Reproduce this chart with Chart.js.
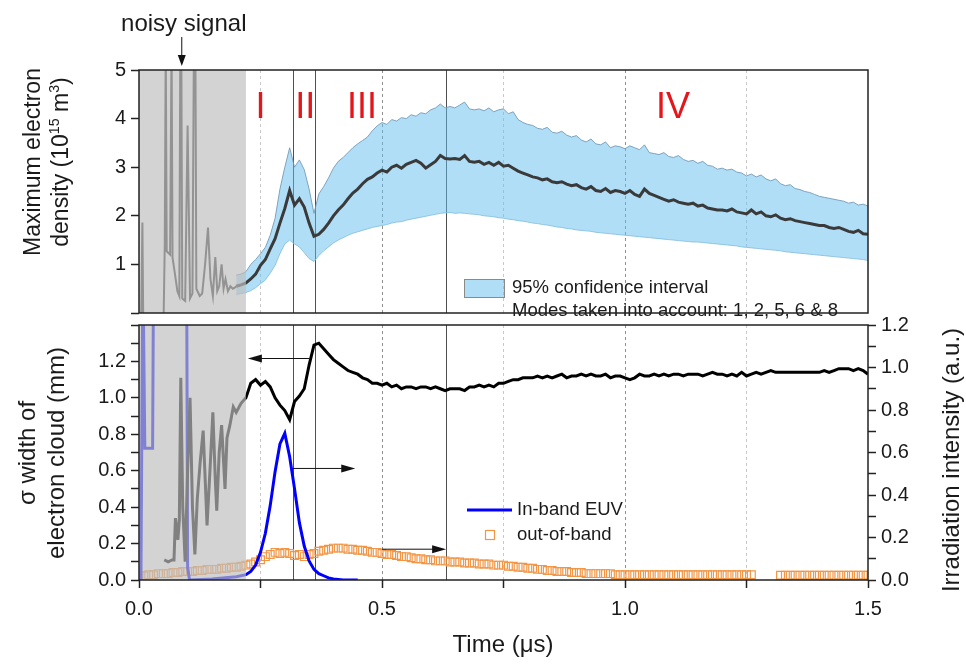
<!DOCTYPE html>
<html>
<head>
<meta charset="utf-8">
<script src="https://cdn.jsdelivr.net/npm/chart.js@4.4.1/dist/chart.umd.min.js"></script>
<style>
  html, body { margin: 0; padding: 0; background: #fff; }
  #wrap { position: relative; width: 966px; height: 668px; overflow: hidden; }
  canvas { position: absolute; left: 0; }
  #topChart { top: 0; }
  #bottomChart { top: 300px; }
</style>
</head>
<body>
<div id="wrap">
  <canvas id="topChart" width="966" height="330"></canvas>
  <canvas id="bottomChart" width="966" height="368"></canvas>
</div>
<script>
const fontFam = "'Liberation Sans', Arial, Helvetica, sans-serif";
Chart.defaults.font.family = fontFam;
Chart.defaults.color = '#1a1a1a';

// main time grid (µs): 0.20 ... 1.50 in 0.01 steps
const tMain = Array.from({ length: 131 }, (_, i) => +(0.2 + i * 0.01).toFixed(2));

// ---- top panel: maximum electron density (1e15 m^3) ----
// noisy part inside the grey "noisy signal" region
const noisyT = [0.004, 0.007, 0.009, 0.050, 0.053, 0.055, 0.057, 0.064, 0.067, 0.069,
                0.074, 0.079, 0.083, 0.085, 0.087, 0.089, 0.095, 0.100, 0.105, 0.110,
                0.113, 0.116, 0.118, 0.125, 0.130, 0.136, 0.142, 0.147, 0.152, 0.157,
                0.161, 0.165, 0.170, 0.174, 0.178, 0.183, 0.188, 0.193, 0.197];
const noisyDensity = [-0.5, 1.86, -0.5, -0.5, 1.40, 5.6, 1.27, 1.20, 5.6, 1.14,
                      0.80, 0.45, 0.35, 5.6, 5.6, 0.30, 0.25, 3.86, 0.30, 0.40,
                      5.6, 5.6, 0.50, 0.35, 0.40, 1.00, 1.76, 0.70, 0.35, 1.15,
                      0.45, 0.55, 1.00, 0.50, 0.70, 0.45, 0.55, 0.50, 0.52];

const densityMean = [
  0.55, 0.58, 0.62, 0.70, 0.80, 0.98, 1.10, 1.32, 1.53, 1.85,
  2.15, 2.52, 2.22, 2.35, 2.18, 1.85, 1.58, 1.62, 1.72, 1.85,
  2.00, 2.12, 2.22, 2.35, 2.47, 2.55, 2.66, 2.75, 2.80, 2.88,
  2.94, 2.90, 3.00, 3.04, 2.98, 3.06, 3.10, 3.14, 3.08, 2.98,
  3.05, 3.12, 3.24, 3.18, 3.17, 3.18, 3.16, 3.24, 3.12, 3.10,
  3.12, 3.06, 3.10, 3.04, 3.10, 3.02, 3.04, 2.98, 2.92, 2.88,
  2.84, 2.80, 2.78, 2.74, 2.76, 2.70, 2.68, 2.70, 2.65, 2.62,
  2.64, 2.58, 2.55, 2.60, 2.52, 2.50, 2.56, 2.48, 2.52, 2.50,
  2.46, 2.52, 2.44, 2.40, 2.55, 2.46, 2.42, 2.38, 2.34, 2.30,
  2.33, 2.28, 2.26, 2.24, 2.26, 2.20, 2.22, 2.16, 2.14, 2.12,
  2.12, 2.10, 2.14, 2.08, 2.06, 2.04, 2.12, 2.04, 2.08, 2.00,
  1.98, 2.02, 1.95, 1.92, 1.94, 1.90, 1.88, 1.86, 1.84, 1.82,
  1.80, 1.80, 1.76, 1.74, 1.76, 1.72, 1.68, 1.66, 1.70, 1.63,
  1.62];

const ciUpper = [
  0.78, 0.80, 0.85, 1.00, 1.10, 1.22, 1.35, 1.60, 1.95, 2.55,
  3.00, 3.40, 3.00, 3.15, 2.95, 2.55, 2.05, 2.45, 2.60, 2.78,
  2.98, 3.12, 3.20, 3.30, 3.40, 3.48, 3.55, 3.62, 3.75, 3.85,
  3.92, 3.88, 3.98, 3.95, 4.02, 4.00, 4.08, 4.05, 4.12, 4.10,
  4.18, 4.22, 4.30, 4.22, 4.25, 4.22, 4.28, 4.34, 4.20, 4.18,
  4.20, 4.16, 4.22, 4.14, 4.18, 4.20, 4.10, 4.14, 3.98, 3.92,
  3.88, 3.86, 3.80, 3.78, 3.82, 3.72, 3.70, 3.74, 3.66, 3.62,
  3.65, 3.56, 3.52, 3.58, 3.48, 3.46, 3.52, 3.40, 3.44, 3.42,
  3.38, 3.44, 3.40, 3.36, 3.46, 3.30, 3.28, 3.26, 3.30, 3.22,
  3.20, 3.24, 3.16, 3.12, 3.14, 3.08, 3.12, 3.04, 3.02, 2.96,
  2.98, 2.94, 2.96, 2.90, 2.88, 2.82, 2.86, 2.80, 2.84, 2.76,
  2.72, 2.76, 2.66, 2.62, 2.64, 2.56, 2.54, 2.50, 2.48, 2.44,
  2.40, 2.38, 2.36, 2.34, 2.32, 2.30, 2.26, 2.28, 2.22, 2.24,
  2.20];

const ciLower = [
  0.38, 0.40, 0.42, 0.46, 0.52, 0.60, 0.68, 0.82, 0.98, 1.22,
  1.42, 1.50, 1.42, 1.36, 1.24, 1.12, 1.06, 1.18, 1.28, 1.36,
  1.44, 1.50, 1.55, 1.60, 1.64, 1.67, 1.70, 1.73, 1.76, 1.78,
  1.80, 1.82, 1.85, 1.87, 1.88, 1.91, 1.93, 1.95, 1.97, 1.99,
  2.01, 2.03, 2.05, 2.06, 2.07, 2.05, 2.06, 2.05, 2.04, 2.03,
  2.02, 2.00, 1.99, 1.98, 1.96, 1.95, 1.93, 1.92, 1.90, 1.89,
  1.87, 1.85, 1.84, 1.82, 1.81, 1.79, 1.77, 1.76, 1.74, 1.73,
  1.71, 1.70, 1.69, 1.68, 1.66, 1.65, 1.64, 1.63, 1.62, 1.61,
  1.60, 1.59, 1.58, 1.57, 1.56, 1.55, 1.54, 1.53, 1.52, 1.51,
  1.50, 1.49, 1.48, 1.47, 1.46, 1.46, 1.45, 1.44, 1.43, 1.42,
  1.41, 1.40, 1.39, 1.38, 1.36, 1.35, 1.34, 1.33, 1.32, 1.31,
  1.30, 1.29, 1.28, 1.26, 1.25, 1.24, 1.23, 1.22, 1.21, 1.20,
  1.19, 1.18, 1.17, 1.16, 1.15, 1.14, 1.13, 1.12, 1.11, 1.10,
  1.08];

// ---- bottom panel: sigma width (mm, left axis) ----
const noisySigmaT = [0.052, 0.060, 0.068, 0.072, 0.075, 0.080, 0.083, 0.086, 0.090, 0.095,
                     0.100, 0.105, 0.110, 0.115, 0.120, 0.126, 0.132, 0.137, 0.140, 0.146,
                     0.152, 0.157, 0.160, 0.165, 0.170, 0.174, 0.177, 0.181, 0.187, 0.194];
const noisySigma = [0.11, 0.10, 0.11, 0.11, 0.34, 0.22, 0.33, 1.11, 0.40, 0.10,
                    0.60, 1.00, 0.40, 0.14, 0.45, 0.65, 0.82, 0.50, 0.30, 0.60,
                    0.92, 0.55, 0.38, 0.70, 0.85, 0.65, 0.50, 0.78, 0.85, 0.95];

const sigmaWidth = [
  0.92, 0.97, 1.00, 1.08, 1.10, 1.07, 1.09, 1.06, 1.00, 0.96,
  0.93, 0.88, 0.98, 1.01, 1.05, 1.18, 1.29, 1.30, 1.27, 1.24,
  1.21, 1.19, 1.17, 1.15, 1.14, 1.13, 1.11, 1.10, 1.08, 1.08,
  1.07, 1.08, 1.06, 1.07, 1.05, 1.06, 1.06, 1.05, 1.06, 1.06,
  1.05, 1.06, 1.05, 1.04, 1.05, 1.05, 1.05, 1.04, 1.06, 1.06,
  1.07, 1.06, 1.07, 1.06, 1.08, 1.08, 1.09, 1.10, 1.10, 1.11,
  1.11, 1.11, 1.12, 1.11, 1.12, 1.11, 1.12, 1.13, 1.11, 1.12,
  1.12, 1.13, 1.12, 1.13, 1.12, 1.12, 1.13, 1.11, 1.12, 1.12,
  1.11, 1.10, 1.11, 1.13, 1.12, 1.12, 1.13, 1.12, 1.13, 1.12,
  1.13, 1.13, 1.12, 1.13, 1.13, 1.13, 1.12, 1.13, 1.14, 1.13,
  1.13, 1.12, 1.13, 1.12, 1.14, 1.12, 1.13, 1.14, 1.13, 1.14,
  1.15, 1.14, 1.14, 1.14, 1.14, 1.14, 1.14, 1.14, 1.14, 1.14,
  1.14, 1.15, 1.14, 1.15, 1.16, 1.16, 1.16, 1.15, 1.16, 1.15,
  1.13];

// ---- bottom panel: irradiation (a.u., right axis) ----
const euvT = [0.004, 0.008, 0.012, 0.028, 0.030, 0.098, 0.100, 0.104, 0.15, 0.20,
              0.22, 0.23, 0.24, 0.25, 0.26, 0.27, 0.28, 0.29, 0.30, 0.31,
              0.32, 0.33, 0.34, 0.35, 0.36, 0.37, 0.38, 0.39, 0.40, 0.42, 0.45];
const euvInBand = [0, 1.5, 0.62, 0.62, 1.5, 1.5, 0.06, 0.0, 0.005, 0.015,
                   0.025, 0.04, 0.07, 0.13, 0.22, 0.35, 0.51, 0.64, 0.69, 0.58,
                   0.43, 0.27, 0.16, 0.09, 0.05, 0.03, 0.02, 0.01, 0.005, 0, 0];

// out-of-band, one sample every 0.01 µs from 0.00 to 1.50 (null = no data)
const oobT = Array.from({ length: 151 }, (_, i) => +(i * 0.01).toFixed(2));
const outOfBand = [
  0.02, 0.02, 0.025, 0.025, 0.03, 0.03, 0.03, 0.035, 0.035, 0.04,
  0.04, 0.04, 0.045, 0.045, 0.05, 0.05, 0.05, 0.055, 0.055, 0.06,
  0.06, 0.065, 0.07, 0.075, 0.085, 0.095, 0.11, 0.12, 0.13, 0.125,
  0.13, 0.125, 0.115, 0.12, 0.11, 0.12, 0.125, 0.135, 0.14, 0.145,
  0.15, 0.15, 0.15, 0.145, 0.145, 0.14, 0.14, 0.135, 0.13, 0.13,
  0.125, 0.12, 0.12, 0.115, 0.11, 0.11, 0.105, 0.10, 0.10, 0.095,
  0.095, 0.09, 0.09, 0.09, 0.085, 0.085, 0.085, 0.08, 0.08, 0.08,
  0.075, 0.075, 0.075, 0.07, 0.07, 0.07, 0.065, 0.065, 0.06, 0.06,
  0.055, 0.055, 0.05, 0.05, 0.045, 0.045, 0.04, 0.04, 0.04, 0.035,
  0.035, 0.035, 0.03, 0.03, 0.03, 0.03, 0.03, 0.03, 0.025, 0.025,
  0.025, 0.025, 0.025, 0.025, 0.025, 0.025, 0.025, 0.025, 0.025, 0.025,
  0.025, 0.025, 0.025, 0.025, 0.025, 0.025, 0.025, 0.025, 0.025, 0.025,
  0.025, 0.025, 0.025, 0.025, 0.025, 0.025, 0.025, null, null, null,
  null, null, 0.022, 0.022, 0.022, 0.022, 0.022, 0.022, 0.022, 0.022,
  0.022, 0.022, 0.022, 0.022, 0.022, 0.022, 0.022, 0.022, 0.022, 0.022,
  0.022];

// phase boundaries and labels
const phaseBounds = [0.317, 0.362, 0.632];
const phaseNames = ['I', 'II', 'III', 'IV'];
const phaseLabelT = [0.25, 0.342, 0.459, 1.099];
const phaseLabelY = 4.22;
const noisyEnd = 0.22;

const toPts = (ts, vs) => ts.map((t, i) => ({ x: t, y: vs[i] }));

// grid line colour: darker at major ticks, lighter at minor ones
const gridColor = c => {
  const v = c.tick ? c.tick.value : 0;
  if (v <= 0 || v >= 1.5) return 'rgba(0,0,0,0)';
  return Math.round(v * 4) % 2 === 0 ? '#8f8f8f' : '#c8c8c8';
};

function phaseLines(chart) {
  const { ctx, chartArea: a, scales: { x } } = chart;
  ctx.save();
  ctx.strokeStyle = '#505050';
  ctx.lineWidth = 1;
  phaseBounds.forEach(t => {
    const px = Math.round(x.getPixelForValue(t)) + 0.5;
    ctx.beginPath(); ctx.moveTo(px, a.top); ctx.lineTo(px, a.bottom); ctx.stroke();
  });
  ctx.restore();
}

function shade(chart) {
  const { ctx, chartArea: a, scales: { x } } = chart;
  const x0 = x.getPixelForValue(0), x1 = x.getPixelForValue(noisyEnd);
  ctx.save();
  ctx.fillStyle = 'rgba(190,190,190,0.68)';
  ctx.fillRect(x0, a.top, x1 - x0, a.bottom - a.top);
  ctx.restore();
}

function frame(chart) {
  const { ctx, chartArea: a } = chart;
  ctx.save();
  ctx.strokeStyle = '#222';
  ctx.lineWidth = 1.5;
  ctx.strokeRect(a.left, a.top, a.right - a.left, a.bottom - a.top);
  ctx.restore();
}

function hArrow(ctx, x1, y, x2) {
  const dir = Math.sign(x2 - x1);
  ctx.save();
  ctx.strokeStyle = '#111'; ctx.fillStyle = '#111'; ctx.lineWidth = 1;
  ctx.beginPath(); ctx.moveTo(x1, y); ctx.lineTo(x2 - dir * 8, y); ctx.stroke();
  ctx.beginPath(); ctx.moveTo(x2, y); ctx.lineTo(x2 - dir * 14, y - 4); ctx.lineTo(x2 - dir * 14, y + 4); ctx.closePath(); ctx.fill();
  ctx.restore();
}

// rotated (bottom-to-top) text made of plain / superscript parts
function vText(ctx, parts, cx, cy, size) {
  ctx.save();
  ctx.translate(cx, cy);
  ctx.rotate(-Math.PI / 2);
  ctx.textBaseline = 'middle';
  ctx.textAlign = 'left';
  ctx.fillStyle = '#1a1a1a';
  const fonts = parts.map(p => `${p.sup ? size * 0.62 : size}px ${fontFam}`);
  let total = 0;
  const widths = parts.map((p, i) => { ctx.font = fonts[i]; const w = ctx.measureText(p.t).width; total += w; return w; });
  let px = -total / 2;
  parts.forEach((p, i) => {
    ctx.font = fonts[i];
    ctx.fillText(p.t, px, p.sup ? -size * 0.3 : 0);
    px += widths[i];
  });
  ctx.restore();
}

function text(ctx, str, x, y, size, align, color) {
  ctx.save();
  ctx.font = `${size}px ${fontFam}`;
  ctx.textAlign = align || 'left';
  ctx.textBaseline = 'middle';
  ctx.fillStyle = color || '#1a1a1a';
  ctx.fillText(str, x, y);
  ctx.restore();
}

const tickFont = { size: 20 };

// ================= top chart =================
const topDecor = {
  id: 'topDecor',
  beforeDatasetsDraw(chart) { phaseLines(chart); },
  afterDatasetsDraw(chart) {
    shade(chart);
  },
  afterDraw(chart) {
    const { ctx, chartArea: a, scales: { x, y } } = chart;
    // phase numerals
    phaseNames.forEach((n, i) =>
      text(ctx, n, x.getPixelForValue(phaseLabelT[i]), y.getPixelForValue(phaseLabelY), 36, 'center', '#e3161c'));
    // "noisy signal" note with its arrow
    const ax = x.getPixelForValue(0.088);
    text(ctx, 'noisy signal', ax + 2, 24, 24, 'center');
    ctx.save();
    ctx.strokeStyle = '#111'; ctx.fillStyle = '#111'; ctx.lineWidth = 1;
    ctx.beginPath(); ctx.moveTo(ax, a.top - 33); ctx.lineTo(ax, a.top - 12); ctx.stroke();
    ctx.beginPath(); ctx.moveTo(ax, a.top - 4); ctx.lineTo(ax - 4, a.top - 15); ctx.lineTo(ax + 4, a.top - 15); ctx.closePath(); ctx.fill();
    ctx.restore();
    // legend
    ctx.save();
    ctx.fillStyle = 'rgba(100,190,240,0.5)';
    ctx.fillRect(464, 279, 40, 18);
    ctx.strokeStyle = '#8a8a8a'; ctx.lineWidth = 1;
    ctx.strokeRect(464.5, 279.5, 40, 18);
    ctx.restore();
    text(ctx, '95% confidence interval', 512, 288, 18.5);
    text(ctx, 'Modes taken into account: 1, 2, 5, 6 & 8', 512, 311, 18.5);
    // axis title
    vText(ctx, [{ t: 'Maximum electron' }], 34, 162, 23);
    vText(ctx, [{ t: 'density (10' }, { t: '15', sup: true }, { t: ' m' }, { t: '3', sup: true }, { t: ')' }], 62, 162, 23);
    frame(chart);
  }
};

new Chart(document.getElementById('topChart'), {
  type: 'line',
  data: {
    datasets: [
      {
        label: 'mean',
        data: toPts(noisyT, noisyDensity).concat(toPts(tMain, densityMean)),
        borderColor: '#3a3a3a',
        borderWidth: 3,
        // thinner trace inside the noisy region
        segment: { borderWidth: c => (c.p1.parsed.x <= 0.2 ? 2 : 3) },
        pointRadius: 0,
        fill: false,
      },
      {
        label: '95% confidence interval',
        data: toPts(tMain, ciUpper),
        borderColor: 'rgba(110,150,180,0.85)',
        borderWidth: 1,
        pointRadius: 0,
        backgroundColor: 'rgba(100,190,240,0.5)',
        fill: '+1',
      },
      {
        label: 'lower',
        data: toPts(tMain, ciLower),
        borderColor: 'rgba(150,195,220,0.9)',
        borderWidth: 1,
        pointRadius: 0,
        fill: false,
      },
    ],
  },
  options: {
    responsive: false,
    animation: false,
    devicePixelRatio: 1,
    layout: { padding: { top: 70, right: 98, bottom: 5, left: 0 } },
    plugins: { legend: { display: false }, tooltip: { enabled: false } },
    scales: {
      x: {
        type: 'linear', min: 0, max: 1.5,
        afterFit: s => { s.height = 0; },
        ticks: { stepSize: 0.25, display: false },
        grid: { drawTicks: false, color: gridColor, lineWidth: 1 },
        border: { display: false, dash: [3, 3] },
      },
      y: {
        min: 0, max: 5,
        afterFit: s => { s.width = 139; },
        ticks: { stepSize: 1, padding: 5, font: tickFont, color: '#1a1a1a', callback: v => (v === 0 ? '' : v) },
        grid: { drawOnChartArea: false, tickLength: 8, tickColor: '#222', tickWidth: 1.5 },
        border: { display: false },
      },
    },
  },
  plugins: [topDecor],
});

// ================= bottom chart =================
const bottomDecor = {
  id: 'bottomDecor',
  beforeDatasetsDraw(chart) { phaseLines(chart); },
  afterDatasetsDraw(chart) { shade(chart); },
  afterDraw(chart) {
    const { ctx, scales: { x, y, y2 } } = chart;
    // arrows pointing to the axis each curve belongs to
    hArrow(ctx, x.getPixelForValue(0.35), y.getPixelForValue(1.216), x.getPixelForValue(0.224));
    hArrow(ctx, x.getPixelForValue(0.317), y2.getPixelForValue(0.525), x.getPixelForValue(0.445));
    hArrow(ctx, x.getPixelForValue(0.50), y2.getPixelForValue(0.145), x.getPixelForValue(0.632));
    // legend
    ctx.save();
    ctx.strokeStyle = '#0000ff'; ctx.lineWidth = 3;
    ctx.beginPath(); ctx.moveTo(467, 210); ctx.lineTo(512, 210); ctx.stroke();
    ctx.strokeStyle = 'rgb(242,150,70)'; ctx.lineWidth = 1.2;
    ctx.strokeRect(485.5, 230.5, 9, 9);
    ctx.restore();
    text(ctx, 'In-band EUV', 517, 210, 18.5);
    text(ctx, 'out-of-band', 517, 235, 18.5);
    // axis titles
    vText(ctx, [{ t: 'σ width of' }], 28, 153, 24);
    vText(ctx, [{ t: 'electron cloud (mm)' }], 57, 153, 24);
    vText(ctx, [{ t: 'Irradiation intensity (a.u.)' }], 952, 160, 24);
    text(ctx, 'Time (μs)', 503, 345, 24, 'center');
    frame(chart);
  }
};

const minorLabel = maxK => v => {
  const k = Math.round(v * 10);
  return (k % 2 === 0 && k <= maxK) ? (k / 10).toFixed(1) : '';
};

new Chart(document.getElementById('bottomChart'), {
  type: 'line',
  data: {
    datasets: [
      {
        label: 'sigma width',
        data: toPts(noisySigmaT, noisySigma).concat(toPts(tMain, sigmaWidth)),
        borderColor: '#000',
        borderWidth: 3,
        pointRadius: 0,
        yAxisID: 'y',
      },
      {
        label: 'In-band EUV',
        data: toPts(euvT, euvInBand),
        borderColor: '#0000ff',
        borderWidth: 3,
        pointRadius: 0,
        yAxisID: 'y2',
      },
      {
        label: 'out-of-band',
        data: toPts(oobT, outOfBand),
        showLine: false,
        pointStyle: 'rect',
        pointRadius: 5.5,
        pointBorderWidth: 1.2,
        pointBorderColor: 'rgb(242,150,70)',
        pointBackgroundColor: 'rgba(0,0,0,0)',
        yAxisID: 'y2',
      },
    ],
  },
  options: {
    responsive: false,
    animation: false,
    devicePixelRatio: 1,
    layout: { padding: { top: 25, right: 0, bottom: 0, left: 0 } },
    plugins: { legend: { display: false }, tooltip: { enabled: false } },
    scales: {
      x: {
        type: 'linear', min: 0, max: 1.5,
        afterFit: s => { s.height = 88; },
        ticks: {
          stepSize: 0.25, autoSkip: false, maxRotation: 0, padding: 9, font: tickFont, color: '#1a1a1a',
          callback: v => (Math.round(v * 4) % 2 === 0 ? v.toFixed(1) : ''),
        },
        grid: { color: gridColor, tickColor: '#222', tickLength: 8, tickWidth: 1.5 },
        border: { display: false, dash: [3, 3] },
      },
      y: {
        position: 'left', min: 0, max: 1.4,
        afterFit: s => { s.width = 139; },
        ticks: { stepSize: 0.1, autoSkip: false, padding: 5, font: tickFont, color: '#1a1a1a', callback: minorLabel(12) },
        grid: { drawOnChartArea: false, tickLength: 8, tickColor: '#222', tickWidth: 1.5 },
        border: { display: false },
      },
      y2: {
        position: 'right', min: 0, max: 1.2,
        afterFit: s => { s.width = 98; },
        ticks: { stepSize: 0.1, autoSkip: false, padding: 5, font: tickFont, color: '#1a1a1a', callback: minorLabel(12) },
        grid: { drawOnChartArea: false, tickLength: 8, tickColor: '#222', tickWidth: 1.5 },
        border: { display: false },
      },
    },
  },
  plugins: [bottomDecor],
});
</script>
</body>
</html>
